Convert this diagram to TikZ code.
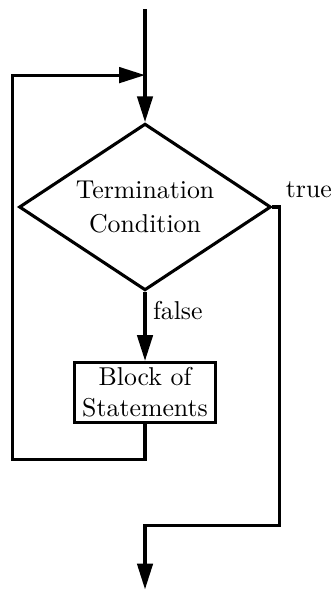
\documentclass[tikz,border=0pt]{standalone}
\usetikzlibrary{arrows.meta,positioning,shapes.geometric}

\begin{document}
\begin{tikzpicture}[
  node distance=9.4mm,
  decision/.style={diamond, aspect=1.51, draw, line width=1.2pt, align=center,
                   minimum width=34.3mm, minimum height=22.7mm, inner sep=0pt},
  block/.style={rectangle, draw, line width=1.2pt, align=center,
                minimum width=19.2mm, minimum height=8.2mm, inner sep=1pt},
  arr/.style={-{Triangle[length=10pt,width=6pt]}, line width=1.2pt}]
  \useasboundingbox (-19.75mm,-52.3mm) rectangle (25.33mm,28.19mm);
  \node[decision] (cond) at (0,0) {Termination\\[1.5pt]Condition};
  \node[block, below=of cond] (blk) {Block of\\Statements};
  \coordinate[above=15.4mm of cond.north] (start);
  \coordinate[above=6.4mm of cond.north] (join);
  \coordinate[below=4.8mm of blk.south] (back);
  \coordinate[left=18.1mm of back] (backL);
  \coordinate[right=1mm of cond.east] (exitR);
  \coordinate[below=13.8mm of blk.south] (merge);
  \coordinate[below=8.7mm of merge] (stop);
  \node[above right=3.5pt and 5pt of cond.east, inner sep=0pt] (tlab) {true};
  \draw[arr] (start) -- (cond.north);
  \draw[arr] (cond.south) -- node[pos=0.27, right, inner sep=2.5pt] (flab) {false} (blk.north);
  \draw[arr] (blk.south) -- (back) -- (backL) |- (join);
  \draw[arr] (cond.east) -- (exitR) |- (merge) -- (stop);
\end{tikzpicture}
\end{document}
